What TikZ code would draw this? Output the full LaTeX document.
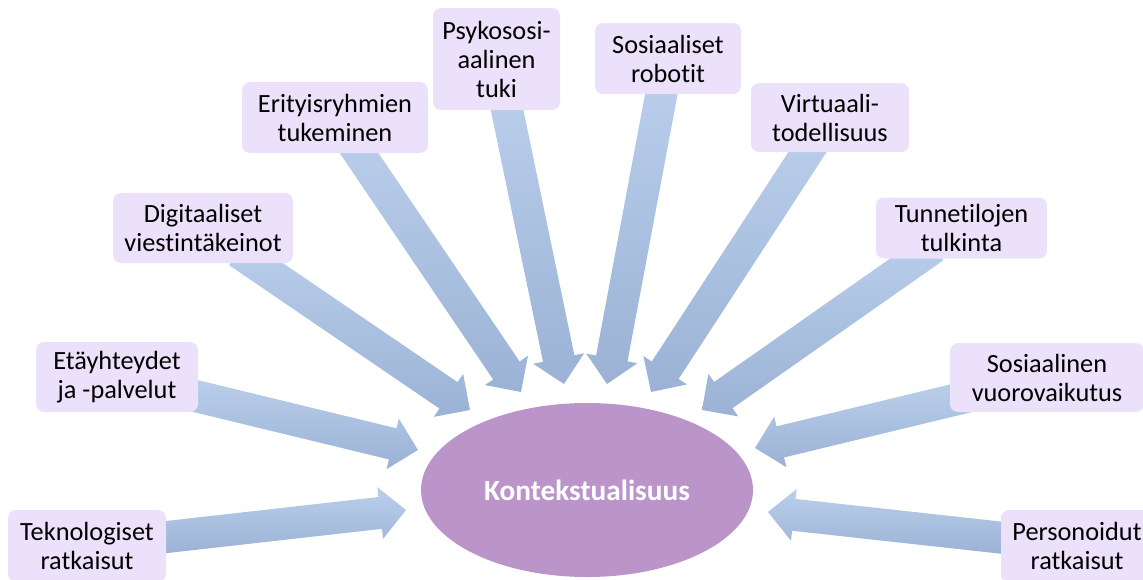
\documentclass[tikz,border=0pt]{standalone}
\usepackage{fontspec}
\setmainfont{Carlito}[Ligatures=NoCommon]
\usetikzlibrary{calc, shapes.geometric}
\definecolor{mLavender}{HTML}{EBE1FA}
\definecolor{mPurple}{HTML}{BB95C9}
\definecolor{mArrowTop}{HTML}{BACFEB}
\definecolor{mArrowBot}{HTML}{9BB2D5}
\pgfdeclarelayer{bg}
\pgfsetlayers{bg,main}
\def\px{0.025cm}
% block arrow from a box (#1) to a tip coordinate (#2)
\newcommand{\inarrow}[2]{%
  \path (#1) -- (#2) coordinate[pos=0] (s0) coordinate[pos=1] (e);
  \coordinate (s) at ($(s0)!-0.5cm!(e)$);
  \coordinate (h) at ($(e)!0.65cm!(s)$);
  \path[top color=mArrowTop, bottom color=mArrowBot]
    ($(s)!0.4cm!90:(e)$) -- ($(h)!0.4cm!90:(e)$) -- ($(h)!0.65cm!90:(e)$)
    -- (e) -- ($(h)!0.65cm!-90:(e)$) -- ($(h)!0.4cm!-90:(e)$)
    -- ($(s)!0.4cm!-90:(e)$) -- cycle;
}
\tikzset{
  topic/.style={fill=mLavender, rounded corners=0.2cm, align=center,
    inner sep=0pt, font=\fontsize{18.7}{20.6}\selectfont},
  sz/.style 2 args={minimum width=#1*\px, minimum height=#2*\px},
  hub/.style={ellipse, fill=mPurple, inner sep=0pt, text=white,
    font=\fontsize{20.8}{24}\selectfont\bfseries}
}

\begin{document}
\begin{tikzpicture}[x=\px, y=-\px]
    \useasboundingbox (0,0) rectangle (1143,579);

    \node[hub, sz={332}{174}] (ctx) at (587,490) {Kontekstualisuus};

    \node[topic, sz={158}{72}]  (tek) at (87,546)    {Teknologiset\\ratkaisut};
    \node[topic, sz={162}{70}]  (eta) at (117,377)   {Etäyhteydet\\ja -palvelut};
    \node[topic, sz={180}{70}]  (dig) at (203,228)   {Digitaaliset\\viestintäkeinot};
    \node[topic, sz={186}{71}]  (eri) at (335,117.5) {Erityisryhmien\\tukeminen};
    \node[topic, sz={127}{102}] (psy) at (496.5,59)  {Psykososi-\\aalinen\\tuki};
    \node[topic, sz={146}{71}]  (rob) at (668,58.5)  {Sosiaaliset\\robotit};
    \node[topic, sz={158}{69}]  (vir) at (830,117.5) {Virtuaali-\\todellisuus};
    \node[topic, sz={171}{61}]  (tun) at (961.5,228) {Tunnetilojen\\tulkinta};
    \node[topic, sz={194}{69}]  (vuo) at (1047,377.5) {Sosiaalinen\\vuorovaikutus};
    \node[topic, sz={152}{72}]  (per) at (1077,546)  {Personoidut\\ratkaisut};

    % arrow tips, just short of the ellipse
    \coordinate (tek-tip) at (406,510);
    \coordinate (eta-tip) at (418,450);
    \coordinate (dig-tip) at (470,410);
    \coordinate (eri-tip) at (521,392);
    \coordinate (psy-tip) at (564,384);
    \coordinate (rob-tip) at (607,384);
    \coordinate (vir-tip) at (651,392);
    \coordinate (tun-tip) at (702,410);
    \coordinate (vuo-tip) at (755,448);
    \coordinate (per-tip) at (768,512);

    \begin{pgfonlayer}{bg}
      \foreach \n in {tek,eta,dig,eri,psy,rob,vir,tun,vuo,per}
        \inarrow{\n}{\n-tip};
    \end{pgfonlayer}
\end{tikzpicture}
\end{document}
